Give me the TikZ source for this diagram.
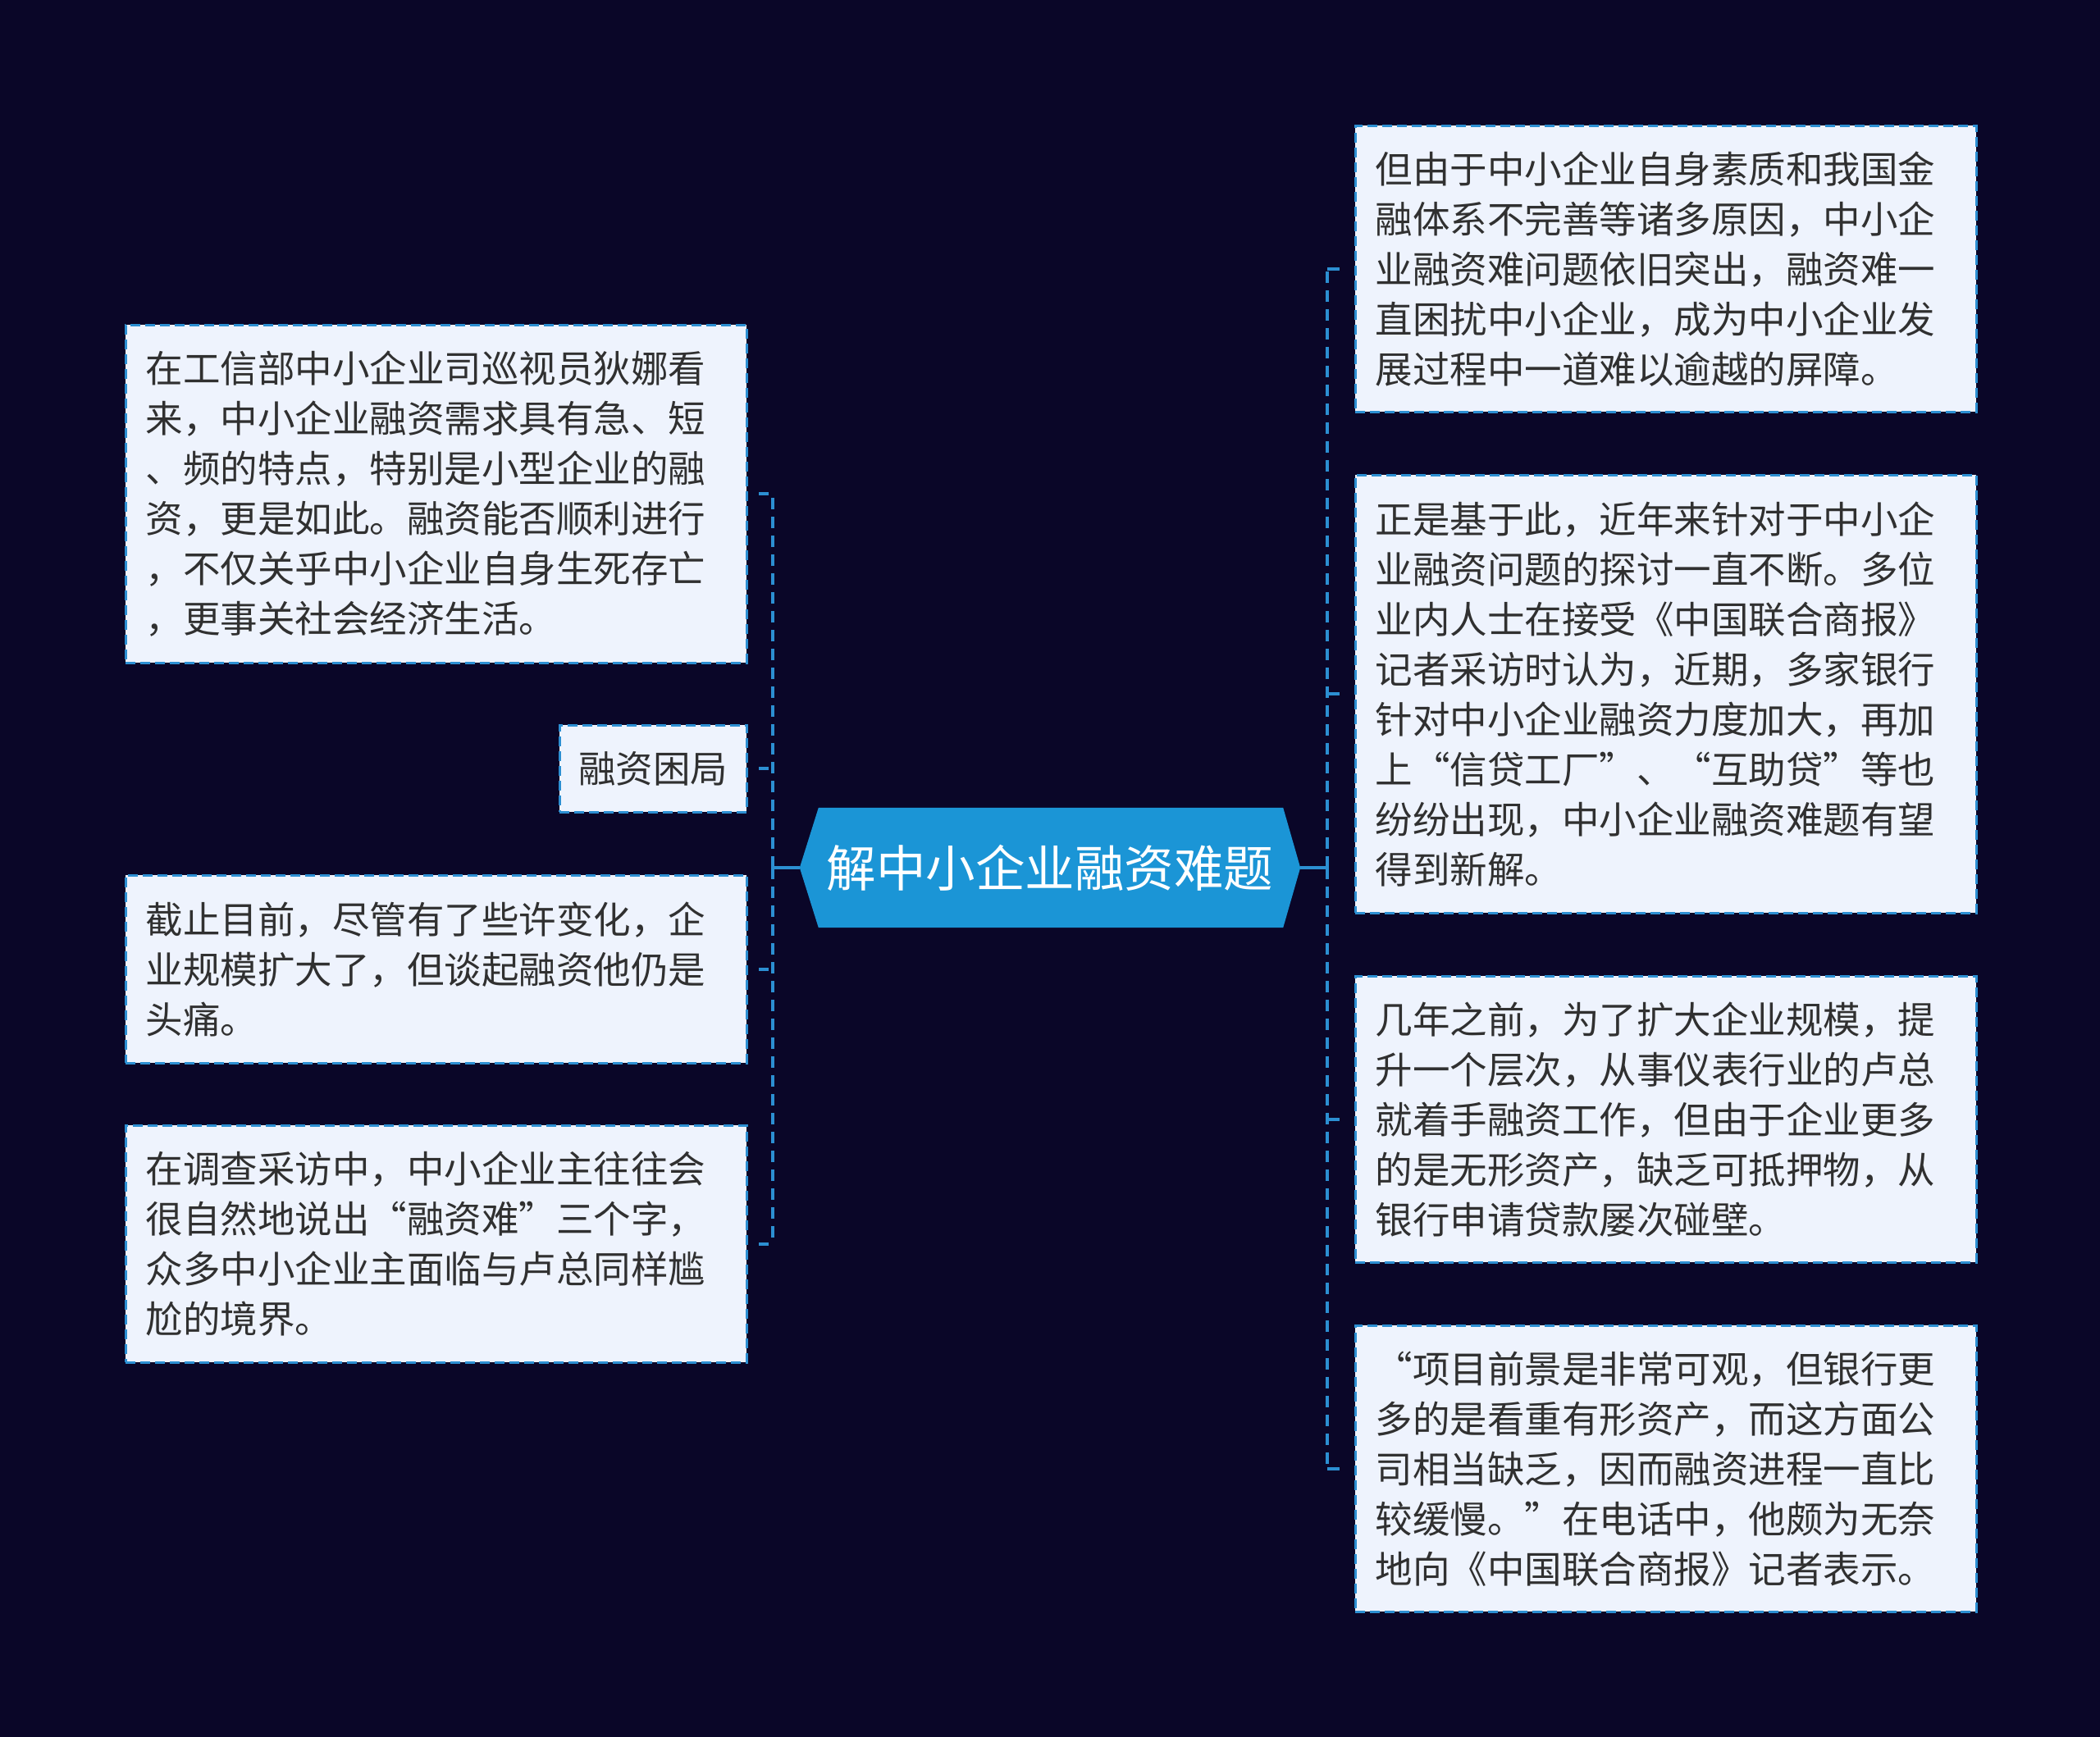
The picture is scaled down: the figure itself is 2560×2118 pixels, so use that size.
\documentclass[tikz,border=0pt]{standalone}
\usepackage{fontspec}
\newfontfamily\cjk{Noto Sans CJK SC}
\definecolor{bgc}{RGB}{10,6,40}
\definecolor{boxfill}{RGB}{238,243,253}
\definecolor{bdr}{RGB}{44,143,210}
\definecolor{hub}{RGB}{27,149,214}
\definecolor{txt}{RGB}{48,48,48}
\pgfdeclarelayer{bg}
\pgfsetlayers{bg,main}
\tikzset{
  leaf/.style={draw=bdr, dash pattern=on 12pt off 6pt, line width=2.5pt, fill=boxfill,
    text=txt, font=\cjk\fontsize{45.5}{61}\selectfont, align=left,
    text width=708pt, inner xsep=24.5pt, inner ysep=0pt, anchor=north west},
  smallleaf/.style={draw=bdr, dash pattern=on 12pt off 6pt, line width=2.5pt, fill=boxfill,
    text=txt, font=\cjk\fontsize{45.5}{61}\selectfont, inner xsep=23pt, inner ysep=0pt,
    minimum width=228pt, minimum height=106pt, anchor=north west},
  hubnode/.style={text=white, font=\cjk\fontsize{60.5}{70}\selectfont,
    minimum width=610pt, minimum height=146pt, inner sep=0pt},
  trunk/.style={draw=bdr, line width=4pt, dash pattern=on 14pt off 9pt},
  solidlink/.style={draw=bdr, line width=4pt},
  tickl/.style={draw=bdr, line width=4pt, dash pattern=on 0pt off 5pt on 12pt off 60pt},
  tickr/.style={draw=bdr, line width=4pt, dash pattern=on 15pt off 60pt},
}
\newcommand{\oq}[1]{\makebox[1em][r]{#1}}
\newcommand{\cq}[1]{\makebox[1em][l]{#1}}
\begin{document}
\begin{tikzpicture}[x=1pt,y=-1pt]
\begin{pgfonlayer}{bg}
\fill[bgc] (0,0) rectangle (2560,2118);
\end{pgfonlayer}
\useasboundingbox (0,0) rectangle (2560,2118);

% hub
\node[hubnode] (c) at (1280,1058) {解中小企业融资难题};
\begin{pgfonlayer}{bg}
\fill[hub] (c.west) -- ([xshift=23pt]c.north west) -- ([xshift=-21pt]c.north east) -- (c.east)
  -- ([xshift=-21pt]c.south east) -- ([xshift=23pt]c.south west) -- cycle;
\end{pgfonlayer}

% left leaves
\node[leaf, minimum height=412pt] (l1) at (152,395) {在工信部中小企业司巡视员狄娜看\\来，中小企业融资需求具有急、短\\、频的特点，特别是小型企业的融\\资，更是如此。融资能否顺利进行\\，不仅关乎中小企业自身生死存亡\\，更事关社会经济生活。};
\node[smallleaf] (l2) at (681,883) {融资困局};
\node[leaf, minimum height=229pt] (l3) at (152,1066) {截止目前，尽管有了些许变化，企\\业规模扩大了，但谈起融资他仍是\\头痛。};
\node[leaf, minimum height=289pt] (l4) at (152,1371) {在调查采访中，中小企业主往往会\\很自然地说出\oq{“}融资难\cq{”}三个字，\\众多中小企业主面临与卢总同样尴\\尬的境界。};

% right leaves
\node[leaf, minimum height=349pt] (r1) at (1651,152) {但由于中小企业自身素质和我国金\\融体系不完善等诸多原因，中小企\\业融资难问题依旧突出，融资难一\\直困扰中小企业，成为中小企业发\\展过程中一道难以逾越的屏障。};
\node[leaf, minimum height=534pt] (r2) at (1651,578) {正是基于此，近年来针对于中小企\\业融资问题的探讨一直不断。多位\\业内人士在接受《中国联合商报》\\记者采访时认为，近期，多家银行\\针对中小企业融资力度加大，再加\\上\oq{“}信贷工厂\cq{”}、\oq{“}互助贷\cq{”}等也\\纷纷出现，中小企业融资难题有望\\得到新解。};
\node[leaf, minimum height=349pt] (r3) at (1651,1189) {几年之前，为了扩大企业规模，提\\升一个层次，从事仪表行业的卢总\\就着手融资工作，但由于企业更多\\的是无形资产，缺乏可抵押物，从\\银行申请贷款屡次碰壁。};
\node[leaf, minimum height=349pt] (r4) at (1651,1615) {\oq{“}项目前景是非常可观，但银行更\\多的是看重有形资产，而这方面公\\司相当缺乏，因而融资进程一直比\\较缓慢。\cq{”}在电话中，他颇为无奈\\地向《中国联合商报》记者表示。};

% connectors
\coordinate (jl) at (942,1058);
\coordinate (jr) at (1618,1058);
\draw[solidlink] (c.west) -- (jl);
\draw[solidlink] (c.east) -- (jr);
\foreach \n in {l1,l2,l3,l4}{
  \draw[trunk] (jl) -- (jl |- \n.east);
  \draw[tickl] (jl |- \n.east) -- (\n.east);
}
\foreach \n in {r1,r2,r3,r4}{
  \draw[trunk] (jr) -- (jr |- \n.west);
  \draw[tickr] (jr |- \n.west) -- (\n.west);
}
\end{tikzpicture}
\end{document}
